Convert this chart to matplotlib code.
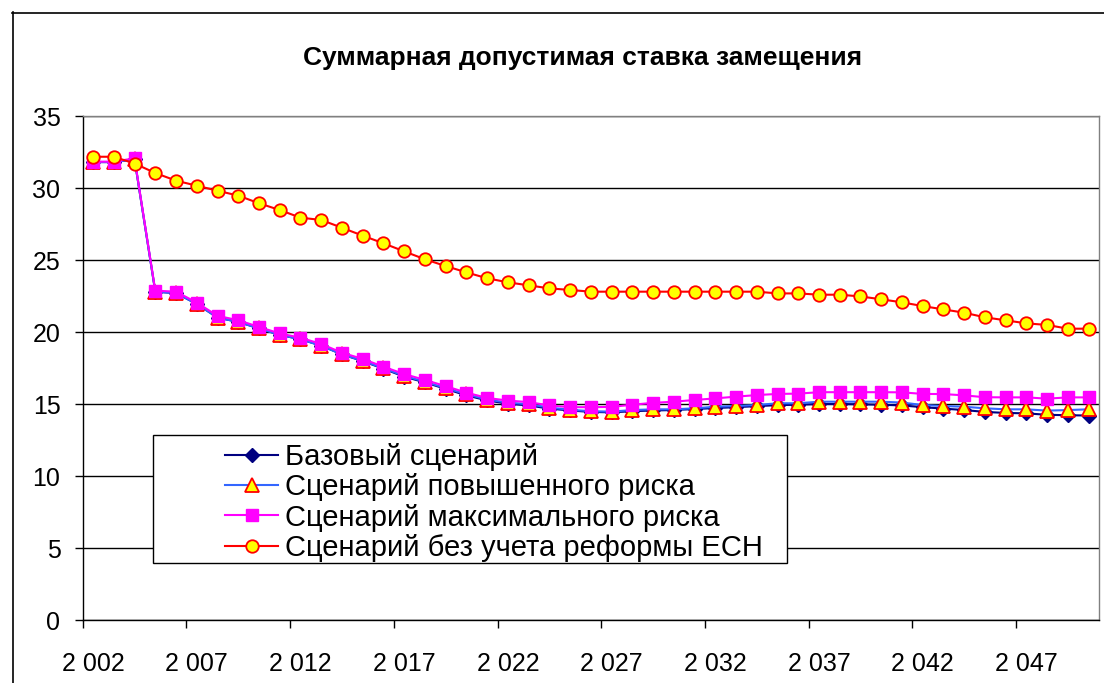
import matplotlib
matplotlib.use("Agg")
import matplotlib.pyplot as plt
from matplotlib.patches import Rectangle
from matplotlib.lines import Line2D
import numpy as np

plt.rcParams['font.family'] = ['Liberation Sans', 'DejaVu Sans']

title = "Суммарная допустимая ставка замещения"
years = list(range(2002, 2051))
series_names = ["Базовый сценарий", "Сценарий повышенного риска",
                "Сценарий максимального риска", "Сценарий без учета реформы ЕСН"]

base = [31.8, 31.8, 32.0, 22.8, 22.7, 21.95, 21.0, 20.7, 20.25, 19.8,
        19.5, 19.05, 18.45, 17.98, 17.45, 16.9, 16.5, 16.05, 15.6, 15.25,
        15.02, 14.9, 14.68, 14.55, 14.45, 14.42, 14.5, 14.55, 14.58, 14.65,
        14.72, 14.78, 14.85, 14.92, 14.95, 15.0, 15.0, 14.98, 14.95, 14.9,
        14.78, 14.68, 14.58, 14.45, 14.38, 14.35, 14.25, 14.22, 14.2]
raised = [31.8, 31.8, 32.0, 22.8, 22.7, 21.95, 21.0, 20.7, 20.25, 19.8,
          19.5, 19.05, 18.45, 18.0, 17.48, 16.95, 16.55, 16.1, 15.68, 15.3,
          15.1, 14.98, 14.75, 14.6, 14.5, 14.47, 14.58, 14.63, 14.63, 14.7,
          14.81, 14.86, 14.93, 15.05, 15.05, 15.16, 15.16, 15.16, 15.16, 15.1,
          14.93, 14.86, 14.81, 14.7, 14.63, 14.63, 14.54, 14.58, 14.63]
max_risk = [31.83, 31.83, 32.06, 22.87, 22.8, 22.04, 21.12, 20.82, 20.35, 19.9,
            19.6, 19.17, 18.56, 18.13, 17.59, 17.08, 16.67, 16.24, 15.79, 15.42,
            15.24, 15.13, 14.9, 14.78, 14.78, 14.8, 14.95, 15.08, 15.16, 15.28,
            15.39, 15.51, 15.62, 15.7, 15.72, 15.82, 15.82, 15.82, 15.82, 15.81,
            15.7, 15.69, 15.6, 15.47, 15.46, 15.46, 15.37, 15.46, 15.46]
no_reform = [32.17, 32.17, 31.7, 31.04, 30.51, 30.16, 29.81, 29.47, 28.94, 28.47,
             27.94, 27.78, 27.24, 26.69, 26.16, 25.6, 25.05, 24.58, 24.14, 23.73,
             23.45, 23.24, 23.03, 22.92, 22.8, 22.8, 22.8, 22.8, 22.8, 22.8,
             22.8, 22.8, 22.8, 22.68, 22.68, 22.59, 22.59, 22.47, 22.27, 22.06,
             21.8, 21.57, 21.34, 21.02, 20.81, 20.6, 20.49, 20.23, 20.23, 20.14]
no_reform = no_reform[:49]

y_ticks = [0, 5, 10, 15, 20, 25, 30, 35]
label_step = 5

W, H = 1104, 683
fig = plt.figure(figsize=(W / 100, H / 100), dpi=100)

def fx(px):
    return px / W

def fy(py):
    return 1 - py / H

left, right, top, bottom = 82.7, 1099, 116, 620
ax = fig.add_axes([fx(left), fy(bottom), fx(right) - fx(left), fy(top) - fy(bottom)])

x = np.arange(len(years))
styles = [
    dict(color='#000080', marker='D', ms=7.5, mfc='#000080', mec='#000080', mew=1.0, lw=1.5),
    dict(color='#3366FF', marker='^', ms=10, mfc='#FFFF00', mec='#FF0000', mew=1.3, lw=1.5),
    dict(color='#FF00FF', marker='s', ms=9, mfc='#FF00FF', mec='#FF00FF', mew=1.0, lw=1.5),
    dict(color='#FF0000', marker='o', ms=9, mfc='#FFFF00', mec='#FF0000', mew=1.3, lw=1.5),
]
data = [base, raised, max_risk, no_reform]
handles = []
for i, (vals, st) in enumerate(zip(data, styles)):
    ln, = ax.plot(x, vals, zorder=3 + i, clip_on=False, **st)
    handles.append(ln)

ax.set_xlim(-0.5, len(years) - 0.5)
ax.set_ylim(0, 35)
ax.set_yticks(y_ticks)
ax.set_yticklabels([str(v) for v in y_ticks])
ax.yaxis.grid(True, color='black', lw=1.0)
ax.set_axisbelow(True)

# major ticks at category boundaries (no labels), minor ticks at category centres (labels)
ax.set_xticks(np.arange(-0.5, len(years) - 0.5, label_step))
ax.set_xticklabels([])
lab_idx = np.arange(0, len(years), label_step)
ax.set_xticks(lab_idx, minor=True)
ax.set_xticklabels([f"{years[i] // 1000} {years[i] % 1000:03d}" for i in lab_idx], minor=True)
ax.tick_params(axis='x', which='major', direction='out', length=6, width=1, color='black')
ax.tick_params(axis='x', which='minor', length=0, pad=23, labelsize=18)
ax.tick_params(axis='y', direction='out', length=6, width=1, color='black', pad=10, labelsize=18)

for s in ['left', 'bottom']:
    ax.spines[s].set_color('black')
    ax.spines[s].set_linewidth(1.0)
for s in ['top', 'right']:
    ax.spines[s].set_color('#808080')
    ax.spines[s].set_linewidth(1.0)

fig.text(fx(583), fy(58), title, ha='center', va='center', fontsize=19, fontweight='bold')

# outer chart frame
fig.add_artist(Line2D([fx(12), fx(1104)], [fy(12.5), fy(12.5)], color='black', lw=1.2,
                      transform=fig.transFigure))
fig.add_artist(Line2D([fx(12.5), fx(12.5)], [fy(12), fy(683)], color='black', lw=1.2,
                      transform=fig.transFigure))

# legend box
lx0, ly0, lx1, ly1 = 153, 435, 787, 563
fig.add_artist(Rectangle((fx(lx0), fy(ly1)), fx(lx1) - fx(lx0), fy(ly0) - fy(ly1),
                         transform=fig.transFigure, facecolor='white', edgecolor='black',
                         lw=1.0, zorder=10))
leg = fig.legend(handles, series_names, loc='upper left',
                 bbox_to_anchor=(fx(225), fy(443)), frameon=False, fontsize=21,
                 handlelength=1.82, handletextpad=0.24, labelspacing=0.08,
                 borderpad=0, borderaxespad=0)
leg.set_zorder(11)

fig.savefig("out.png", dpi=100)
